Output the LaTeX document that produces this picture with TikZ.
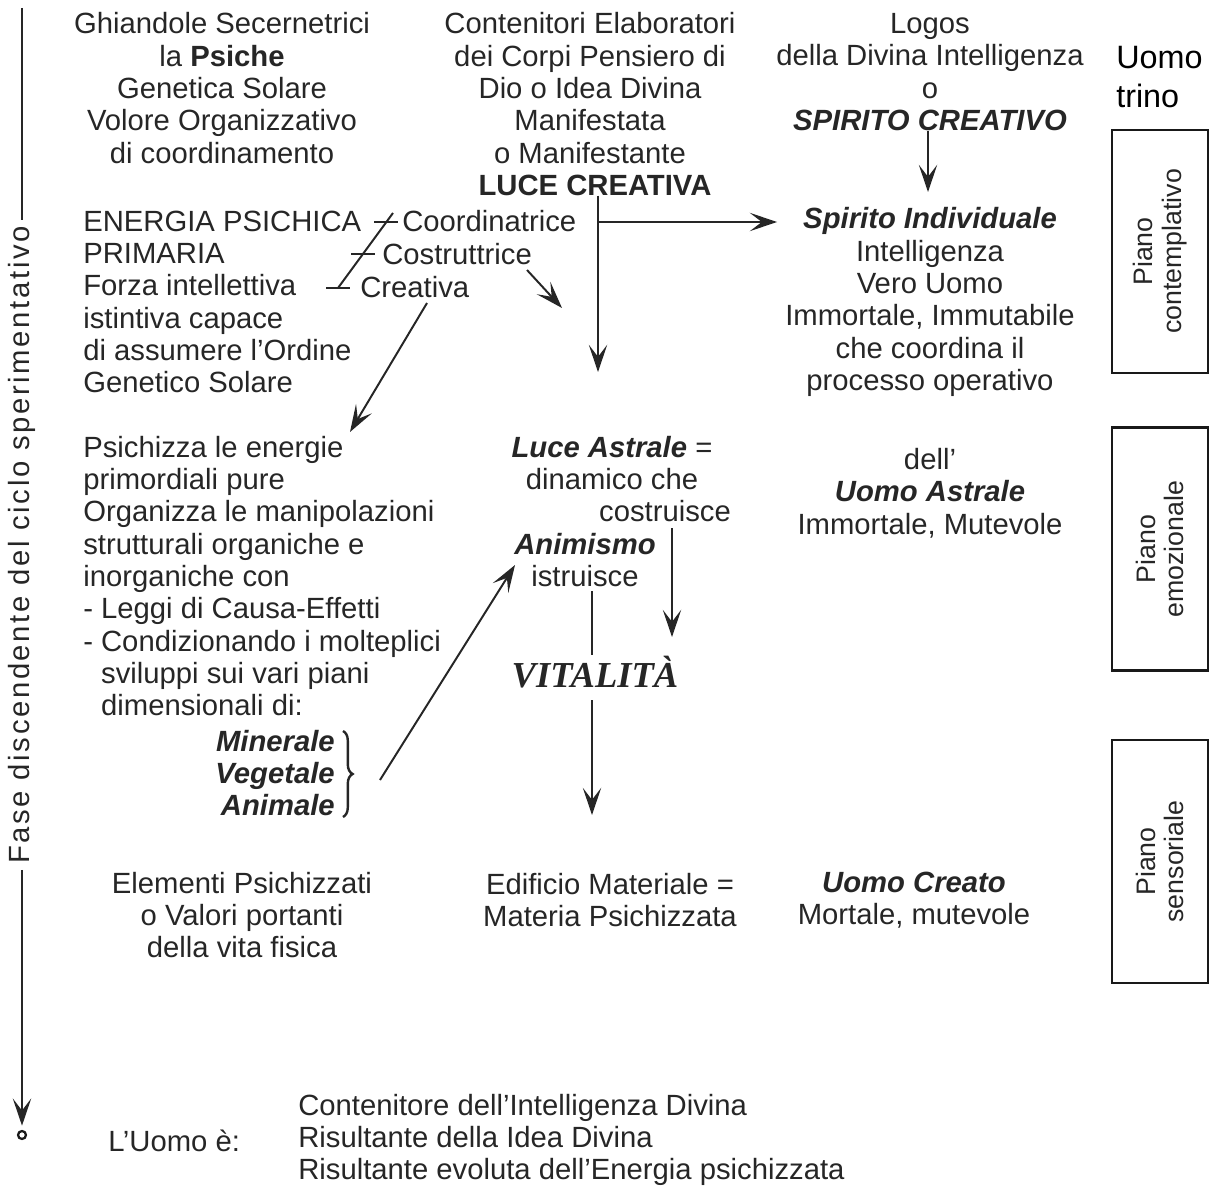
\documentclass[tikz,border=0pt]{standalone}
\usepackage{fontspec}
\setmainfont{Liberation Sans}
\newfontfamily\vitfont{Liberation Serif}
\usetikzlibrary{arrows.meta,calc,decorations.pathreplacing}

\begin{document}
\begin{tikzpicture}[x=0.025cm,y=-0.025cm,
    txt/.style={align=center,inner sep=0pt,font=\fontsize{20.8}{23}\selectfont,text=black!85},
    ltxt/.style={txt,align=left,anchor=west},
    bi/.style={font=\fontsize{20.8}{23}\selectfont\bfseries\itshape},
    ln/.style={line width=1.4pt,draw=black!85},
    arr/.style={ln,-{Stealth[length=0.68cm,width=0.46cm,inset=0.3cm]}},
    pianobox/.style={draw=black!90,line width=2pt,rotate=90,align=center,
        minimum width=6.075cm,minimum height=2.4cm,inner sep=0pt,
        font=\fontsize{19}{20.5}\selectfont,text=black!85}]
    \useasboundingbox (0,0) rectangle (1211,1195);

    \node[txt] (ghiandole) at (222,88) {Ghiandole Secernetrici\\la \textbf{Psiche}\\Genetica Solare\\Volore Organizzativo\\di coordinamento};
    \node[txt] (contenitori) at (590,88) {Contenitori Elaboratori\\dei Corpi Pensiero di\\Dio o Idea Divina\\Manifestata\\o Manifestante};
    \node[txt,font=\fontsize{20.8}{23}\selectfont\bfseries] (lucecr) at (595,185) {LUCE CREATIVA};
    \node[txt] (logos) at (930,72) {Logos\\della Divina Intelligenza\\o\\\textbf{\textit{SPIRITO CREATIVO}}};
    \node[txt,align=left,anchor=west,font=\fontsize{23}{27.5}\selectfont,text=black] (trino) at (1116,77) {Uomo\\trino};

    \node[ltxt] (energia) at (83,302) {ENERGIA PSICHICA\\PRIMARIA\\Forza intellettiva\\istintiva capace\\di assumere l'Ordine\\Genetico Solare};
    \node[ltxt] (coord) at (402,221) {Coordinatrice};
    \node[ltxt] (costr) at (382,254) {Costruttrice};
    \node[ltxt] (creat) at (360,287) {Creativa};
    \node[txt] (individuale) at (930,302) {\textbf{\textit{Spirito Individuale}}\\Intelligenza\\Vero Uomo\\Immortale, Immutabile\\che coordina il\\processo operativo};

    \node[ltxt] (psichizza) at (83,576) {Psichizza le energie\\primordiali pure\\Organizza le manipolazioni\\strutturali organiche e\\inorganiche con\\- Leggi di Causa-Effetti\\- Condizionando i molteplici\\\phantom{- }sviluppi sui vari piani\\\phantom{- }dimensionali di:};
    \node[txt,align=right,anchor=east,bi] (regni) at (335,773) {Minerale\\Vegetale\\Animale};
    \node[txt] (astrale) at (612,463) {\textbf{\textit{Luce Astrale}} =\\dinamico che};
    \node[txt] (costruisce) at (665,511) {costruisce};
    \node[txt] (animismo) at (585,560) {\textbf{\textit{Animismo}}\\istruisce};
    \node[txt,font=\fontsize{26}{28}\vitfont\bfseries\itshape] (vitalita) at (595,672) {VITALITÀ};
    \node[txt] (uomoastrale) at (930,493) {dell'\\\textbf{\textit{Uomo Astrale}}\\Immortale, Mutevole};

    \node[txt] (elementi) at (242,915) {Elementi Psichizzati\\o Valori portanti\\della vita fisica};
    \node[txt] (edificio) at (610,900) {Edificio Materiale =\\Materia Psichizzata};
    \node[txt] (creato) at (914,900) {\textbf{\textit{Uomo Creato}}\\Mortale, mutevole};

    \node[ltxt] (uomoe) at (108,1141) {L'Uomo è:};
    \node[ltxt] (risultanti) at (298,1140) {Contenitore dell'Intelligenza Divina\\Risultante della Idea Divina\\Risultante evoluta dell'Energia psichizzata};

    \node[pianobox] (contempl) at (1160,251.5) {Piano\\contemplativo};
    \node[pianobox] (emoz) at (1160,549) {Piano\\emozionale};
    \node[pianobox] (sensor) at (1160,861.5) {Piano\\sensoriale};

    \node[txt,rotate=90,inner sep=4pt,font=\fontsize{20.8}{23}\selectfont\addfontfeature{LetterSpace=9}] (fase) at (22,545) {Fase discendente del ciclo sperimentativo};
    \node[circle,draw=black!90,line width=1.6pt,inner sep=2pt] (fine) at (22,1135) {};
    \coordinate (fasetop) at (22,8);
    \draw[ln] (fasetop) -- (fase.east);
    \draw[arr,shorten >=3pt] (fase.west) -- (fine.north);

    \coordinate (lcjoin) at (598,222);
    \coordinate (lctip) at (598,372);
    \coordinate (indtip) at (777,222);
    \draw[arr] (lucecr.south -| lcjoin) -- (lctip);
    \draw[arr] (lcjoin) -- (indtip);
    \draw[arr] (logos.south -| 928,0) -- (928,192);

    \coordinate (tk1) at ($(coord.west)+(-16,1)$);
    \coordinate (tk2) at ($(costr.west)+(-19,0)$);
    \coordinate (tk3) at ($(creat.west)+(-22,1)$);
    \draw[ln] (tk3) -- ($(tk1)+(7,-9)$);
    \foreach \t in {tk1,tk2,tk3}
        \draw[ln] ($(\t)+(-12,0)$) -- ($(\t)+(12,0)$);

    \coordinate (costail) at (527,270);
    \coordinate (costip) at (562,308);
    \draw[arr] (costail) -- (costip);
    \coordinate (crtail) at (427,303);
    \coordinate (crtip) at (350,432);
    \draw[arr] (crtail) -- (crtip);

    \coordinate (cstail) at (672,528);
    \coordinate (cstip) at (672,637);
    \draw[arr] (cstail) -- (cstip);
    \draw[ln] (animismo.south -| 592,0) ++(0,4) -- (592,655);
    \coordinate (vttip) at (592,815);
    \draw[arr] (592,700) -- (vttip);

    \draw[ln,line width=1.7pt,decorate,decoration={brace,amplitude=0.24cm}] (343,731) -- (343,817);
    \coordinate (rgtail) at (380,780);
    \coordinate (rgtip) at (515,565);
    \draw[arr] (rgtail) -- (rgtip);
\end{tikzpicture}
\end{document}
